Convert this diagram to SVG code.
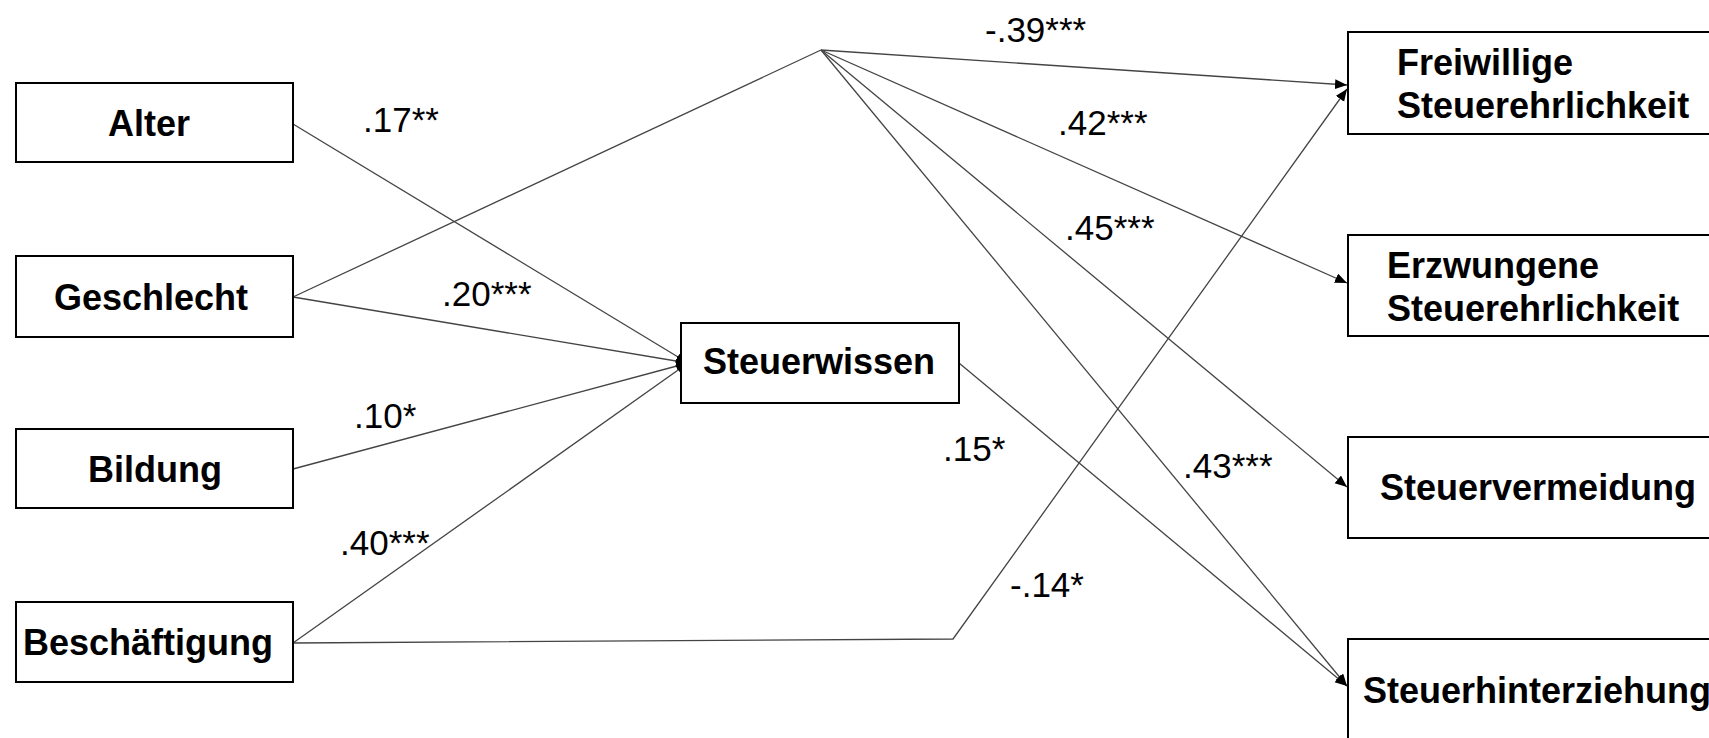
<svg xmlns="http://www.w3.org/2000/svg" width="1709" height="738" viewBox="0 0 1709 738">
<style>
.box{fill:#fff;stroke:#000;stroke-width:2}
.nt{font-family:"Liberation Sans",Arial,sans-serif;font-weight:bold;font-size:36px;fill:#000}
.lb{font-family:"Liberation Sans",Arial,sans-serif;font-size:35px;fill:#000}
.ln{fill:none;stroke:#444;stroke-width:1.3}
</style>
<defs>
<marker id="ah" markerUnits="userSpaceOnUse" markerWidth="13" markerHeight="11" refX="12" refY="5" orient="auto">
<path d="M0,0 L12,5 L0,10 z" fill="#000"/>
</marker>
</defs>
<rect width="1709" height="738" fill="#fff"/>
<g id="connectors">
<line class="ln" x1="293" y1="124" x2="688" y2="363" marker-end="url(#ah)"/>
<line class="ln" x1="293" y1="297" x2="688" y2="363" marker-end="url(#ah)"/>
<line class="ln" x1="293" y1="469" x2="688" y2="363" marker-end="url(#ah)"/>
<line class="ln" x1="293" y1="643" x2="688" y2="363" marker-end="url(#ah)"/>
<line class="ln" x1="293" y1="297" x2="821" y2="50"/>
<line class="ln" x1="821" y1="50" x2="1347" y2="85" marker-end="url(#ah)"/>
<line class="ln" x1="821" y1="50" x2="1347" y2="283" marker-end="url(#ah)"/>
<line class="ln" x1="821" y1="50" x2="1347" y2="487" marker-end="url(#ah)"/>
<line class="ln" x1="821" y1="50" x2="1347" y2="686" marker-end="url(#ah)"/>
<line class="ln" x1="959" y1="363" x2="1347" y2="686" marker-end="url(#ah)"/>
<polyline class="ln" points="293,643 953,639 1347,89" marker-end="url(#ah)"/>
</g>
<g id="labels">
<text class="lb" x="985" y="42">-.39***</text>
<text class="lb" x="363" y="132">.17**</text>
<text class="lb" x="1058" y="135">.42***</text>
<text class="lb" x="442" y="306">.20***</text>
<text class="lb" x="1065" y="240">.45***</text>
<text class="lb" x="354" y="428">.10*</text>
<text class="lb" x="943" y="461">.15*</text>
<text class="lb" x="1183" y="478">.43***</text>
<text class="lb" x="340" y="555">.40***</text>
<text class="lb" x="1010" y="597">-.14*</text>
</g>
<g id="alter"><rect class="box" x="16" y="83" width="277" height="79"/><text class="nt" x="149" y="136" text-anchor="middle">Alter</text></g>
<g id="geschlecht"><rect class="box" x="16" y="256" width="277" height="81"/><text class="nt" x="151" y="310" text-anchor="middle">Geschlecht</text></g>
<g id="bildung"><rect class="box" x="16" y="429" width="277" height="79"/><text class="nt" x="155" y="482" text-anchor="middle">Bildung</text></g>
<g id="beschaeftigung"><rect class="box" x="16" y="602" width="277" height="80"/><text class="nt" x="148" y="655" text-anchor="middle">Beschäftigung</text></g>
<g id="steuerwissen"><rect class="box" x="681" y="323" width="278" height="80"/><text class="nt" x="819" y="374" text-anchor="middle">Steuerwissen</text></g>
<g id="freiwillige"><rect class="box" x="1348" y="32" width="380" height="102"/><text class="nt" x="1397" y="75">Freiwillige</text><text class="nt" x="1397" y="118">Steuerehrlichkeit</text></g>
<g id="erzwungene"><rect class="box" x="1348" y="235" width="380" height="101"/><text class="nt" x="1387" y="278">Erzwungene</text><text class="nt" x="1387" y="321">Steuerehrlichkeit</text></g>
<g id="steuervermeidung"><rect class="box" x="1348" y="437" width="380" height="101"/><text class="nt" x="1380" y="500">Steuervermeidung</text></g>
<g id="steuerhinterziehung"><rect class="box" x="1348" y="639" width="380" height="130"/><text class="nt" x="1363" y="703">Steuerhinterziehung</text></g>
</svg>
